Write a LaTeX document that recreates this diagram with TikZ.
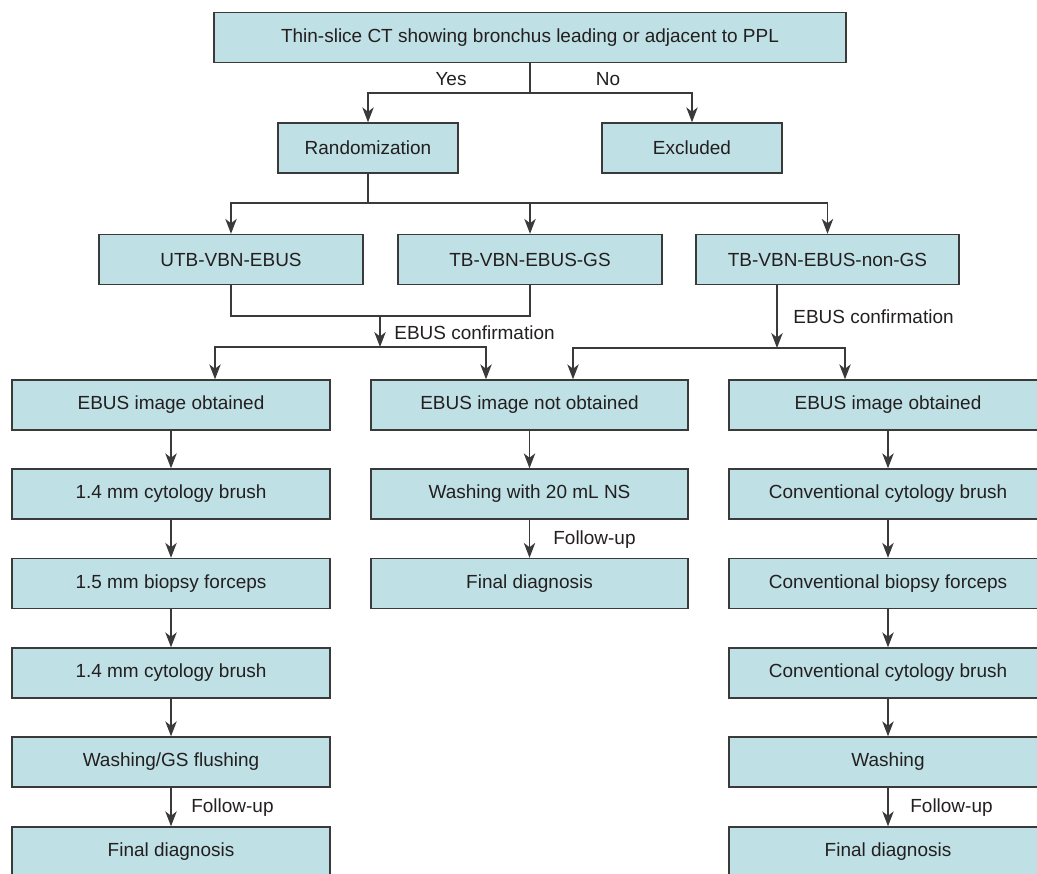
\documentclass[tikz,border=0pt]{standalone}
\usepackage{fontspec}
\setmainfont{Liberation Sans}
\usetikzlibrary{calc,arrows.meta}
\definecolor{boxfill}{RGB}{191,224,228}
\definecolor{linegray}{RGB}{58,58,58}
\definecolor{textgray}{RGB}{35,31,32}
\tikzset{
	stepbox/.style={draw=linegray, fill=boxfill, line width=0.8pt, text=textgray, minimum height=1cm, inner sep=0pt, font=\fontsize{10.8}{12}\selectfont},
	flow/.style={draw=linegray, line width=0.8pt, -{Stealth[length=8.5pt,width=6.5pt,inset=2.5pt]}},
	line/.style={draw=linegray, line width=0.8pt},
	lbl/.style={text=textgray, anchor=west, inner sep=0pt, font=\fontsize{10.8}{12}\selectfont}
}

\begin{document}
\begin{tikzpicture}[x=0.02cm, y=-0.02cm]
				\useasboundingbox (0, 0) rectangle (1037, 874);
				
				\node[stepbox, minimum width=12.64cm] (ct) at (530, 37.5) {Thin-slice CT showing bronchus leading or adjacent to PPL};
				\node[stepbox, minimum width=3.6cm] (rand) at (368, 148) {Randomization};
				\node[stepbox, minimum width=3.6cm] (excl) at (692, 148) {Excluded};
				
				\node[stepbox, minimum width=5.28cm] (utb) at (231, 259.5) {UTB-VBN-EBUS};
				\node[stepbox, minimum width=5.28cm] (gs) at (530, 259.5) {TB-VBN-EBUS-GS};
				\node[stepbox, minimum width=5.26cm] (ngs) at (827.5, 259.5) {TB-VBN-EBUS-non-GS};
				
				\node[stepbox, minimum width=6.36cm] (lobt) at (171, 405) {EBUS image obtained};
				\node[stepbox, minimum width=6.36cm] (lbrA) at (171, 494) {1.4 mm cytology brush};
				\node[stepbox, minimum width=6.36cm] (lfor) at (171, 583.5) {1.5 mm biopsy forceps};
				\node[stepbox, minimum width=6.36cm] (lbrB) at (171, 673) {1.4 mm cytology brush};
				\node[stepbox, minimum width=6.36cm] (lwash) at (171, 762) {Washing/GS flushing};
				\node[stepbox, minimum width=6.36cm] (lfin) at (171, 852) {Final diagnosis};
				
				\node[stepbox, minimum width=6.34cm] (nobt) at (529.5, 405) {EBUS image not obtained};
				\node[stepbox, minimum width=6.34cm] (mwash) at (529.5, 494) {Washing with 20 mL NS};
				\node[stepbox, minimum width=6.34cm] (mfin) at (529.5, 583.5) {Final diagnosis};
				
				\node[stepbox, minimum width=6.36cm] (robt) at (888, 405) {EBUS image obtained};
				\node[stepbox, minimum width=6.36cm] (rbrA) at (888, 494) {Conventional cytology brush};
				\node[stepbox, minimum width=6.36cm] (rfor) at (888, 583.5) {Conventional biopsy forceps};
				\node[stepbox, minimum width=6.36cm] (rbrB) at (888, 673) {Conventional cytology brush};
				\node[stepbox, minimum width=6.36cm] (rwash) at (888, 762) {Washing};
				\node[stepbox, minimum width=6.36cm] (rfin) at (888, 852) {Final diagnosis};
				
				\coordinate (yesno) at (530, 93);
				\draw[flow] (ct.south) -- (yesno) -| (rand.north);
				\draw[flow] (yesno) -| (excl.north);
				\node[lbl, anchor=center] (yes) at (451, 79) {Yes};
				\node[lbl, anchor=center] (no) at (608, 79) {No};
				
				\coordinate (arms) at (368, 203);
				\draw[flow] (rand.south) -- (arms) -| (utb.north);
				\draw[flow] (arms) -| (gs.north);
				\draw[flow] (arms) -| (ngs.north);
				
				\coordinate (mergeA) at (380, 316);
				\coordinate (splitA) at (380, 347);
				\draw[line] (utb.south) |- (mergeA) -| (gs.south);
				\draw[flow] (mergeA) -- (splitA);
				\draw[flow] (splitA) -| ($(lobt.north)+(44, 0)$);
				\draw[flow] (splitA) -| ($(nobt.north)+(-43.5, 0)$);
				\node[lbl] (confA) at (394, 333) {EBUS confirmation};
				
				\coordinate (splitB) at (777, 348);
				\draw[flow] (ngs.south -| splitB) -- (splitB);
				\draw[flow] (splitB) -| ($(nobt.north)+(43.5, 0)$);
				\draw[flow] (splitB) -| ($(robt.north)+(-43, 0)$);
				\node[lbl] (confB) at (793, 317) {EBUS confirmation};
				
				\draw[flow] (lobt) -- (lbrA);
				\draw[flow] (lbrA) -- (lfor);
				\draw[flow] (lfor) -- (lbrB);
				\draw[flow] (lbrB) -- (lwash);
				\draw[flow] (lwash) -- (lfin);
				\node[lbl] (fupL) at (191, 808) {Follow-up};
				
				\draw[flow] (nobt) -- (mwash);
				\draw[flow] (mwash) -- (mfin);
				\node[lbl] (fupM) at (553, 540) {Follow-up};
				
				\draw[flow] (robt) -- (rbrA);
				\draw[flow] (rbrA) -- (rfor);
				\draw[flow] (rfor) -- (rbrB);
				\draw[flow] (rbrB) -- (rwash);
				\draw[flow] (rwash) -- (rfin);
				\node[lbl] (fupR) at (910, 808) {Follow-up};
			\end{tikzpicture}
\end{document}
